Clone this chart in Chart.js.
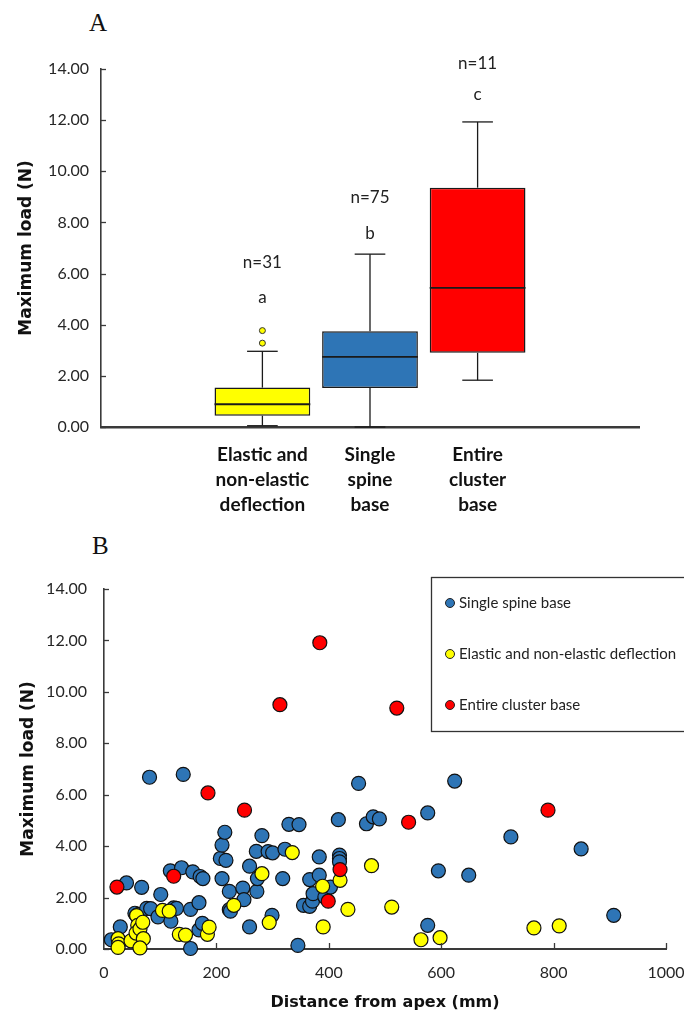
<!DOCTYPE html>
<html lang="en">
<head>
<meta charset="utf-8">
<title>Maximum load</title>
<script src="https://cdn.jsdelivr.net/npm/chart.js@4.4.0/dist/chart.umd.min.js"></script>
<style>
  body { margin: 0; background: #fff; width: 684px; height: 1012px; position: relative; overflow: hidden; }
  .panel { position: absolute; font-family: 'Liberation Serif', serif; font-size: 25px; line-height: 25px; color: #111; }
  #boxChart { position: absolute; left: 0; top: 0; }
  #scatterChart { position: absolute; left: 0; top: 530px; }
</style>
</head>
<body>
<div class="panel" style="left:89px; top:10px;">A</div>
<div class="panel" style="left:92px; top:533px;">B</div>
<canvas id="boxChart" width="684" height="530"></canvas>
<canvas id="scatterChart" width="684" height="482"></canvas>

<script>
  // ---- panel A: box plot ----
  const cats = ['', 'Elastic and non-elastic deflection', 'Single spine base', 'Entire cluster base', ''];
  const catLines = [[''], ['Elastic and', 'non-elastic', 'deflection'], ['Single', 'spine', 'base'], ['Entire', 'cluster', 'base'], ['']];
  const boxColors = ['#ffffff', '#ffff00', '#2e75b6', '#ff0000', '#ffffff'];
  const boxMin = [null, 0.05, 0.00, 1.83, null];
  const boxQ1 = [null, 0.44, 1.53, 2.90, null];
  const boxMed = [null, 0.89, 2.74, 5.44, null];
  const boxQ3 = [null, 1.54, 3.74, 9.36, null];
  const boxMax = [null, 2.96, 6.76, 11.93, null];
  const outlierHi = [null, 3.77, null, null, null];
  const outlierLo = [null, 3.28, null, null, null];
  const nText = ['', 'n=31', 'n=75', 'n=11', ''];
  const nAt = [null, 6.43, 8.98, 14.2, null];
  const sigText = ['', 'a', 'b', 'c', ''];
  const sigAt = [null, 5.05, 7.57, 13.0, null];

  // ---- panel B: scatter, [distance mm, load N] ----
  const spinePts = [[13,0.36],[29,0.86],[40,2.57],[55,1.39],[58,1.30],[62,1.35],[67,2.40],[76,1.58],[81,6.68],[83,1.57],
    [96,1.25],[101,2.12],[118,3.04],[119,1.08],[124,1.60],[129,1.58],[138,3.16],[141,6.79],[154,1.54],[154,0.02],
    [158,3.00],[169,1.80],[169,0.74],[171,2.82],[175,1.00],[176,2.74],[207,3.52],[210,4.04],[210,2.74],[215,4.54],
    [217,3.45],[223,2.24],[223,1.53],[225,1.47],[247,2.37],[249,1.92],[259,3.22],[259,0.86],[271,3.80],[272,2.24],
    [273,2.74],[281,4.41],[292,3.79],[299,1.31],[300,3.74],[318,2.74],[322,3.88],[329,4.85],[345,0.14],[347,4.84],
    [355,1.70],[366,1.66],[366,2.70],[371,1.86],[372,2.15],[383,3.58],[383,2.87],[393,2.02],[403,2.41],[417,5.03],
    [419,3.65],[419,3.52],[419,3.39],[453,6.44],[467,4.87],[479,5.14],[490,5.06],[576,5.29],[576,0.92],[595,3.04],
    [624,6.53],[649,2.87],[724,4.36],[849,3.89],[907,1.31]];
  const deflPts = [[25,0.40],[26,0.20],[25,0.06],[48,0.32],[58,1.30],[60,0.92],[57,0.62],[64,0.78],[69,1.04],[70,0.40],
    [64,0.04],[104,1.50],[116,1.47],[134,0.57],[145,0.54],[184,0.57],[187,0.85],[231,1.70],[281,2.93],[294,1.03],
    [335,3.75],[389,2.44],[390,0.86],[420,2.67],[434,1.54],[476,3.24],[512,1.63],[564,0.36],[598,0.44],[765,0.82],
    [810,0.90]];
  const clusterPts = [[23,2.41],[124,2.83],[185,6.07],[250,5.40],[313,9.50],[384,11.91],[399,1.86],[420,3.09],
    [521,9.37],[542,4.93],[790,5.40]];

  const yTicks = [0, 2, 4, 6, 8, 10, 12, 14];
  const xTicks = [0, 200, 400, 600, 800, 1000];

  Chart.defaults.font.family = 'Lato';
  Chart.defaults.color = '#262626';
  Chart.defaults.animation = false;
  Chart.defaults.plugins.tooltip.enabled = false;

  const axisColor = '#3a3a3a';
  const yTitleFont = { family: 'DejaVu Sans', size: 17, weight: 'bold' };
  const xTitleFont = { family: 'DejaVu Sans', size: 16, weight: 'bold' };

  // short tick marks drawn inward from the axis lines
  const innerTicks = {
    id: 'innerTicks',
    afterDatasetsDraw(chart, args, opts) {
      const { ctx, chartArea, scales } = chart;
      ctx.save();
      ctx.strokeStyle = axisColor;
      ctx.lineWidth = 1.3;
      if (opts.y) {
        scales.y.ticks.forEach(t => {
          const py = Math.round(scales.y.getPixelForValue(t.value)) + 0.5;
          ctx.beginPath(); ctx.moveTo(chartArea.left, py); ctx.lineTo(chartArea.left + opts.y, py); ctx.stroke();
        });
      }
      if (opts.x) {
        scales.x.ticks.forEach(t => {
          if (t.value === 0) return;
          const px = Math.round(scales.x.getPixelForValue(t.value)) + 0.5;
          ctx.beginPath(); ctx.moveTo(px, chartArea.bottom); ctx.lineTo(px, chartArea.bottom - opts.x); ctx.stroke();
        });
      }
      ctx.restore();
    }
  };

  // medians, whiskers and letters on the box plot
  const boxExtras = {
    id: 'boxExtras',
    afterDatasetsDraw(chart) {
      const { ctx, scales: { x, y } } = chart;
      const bars = chart.getDatasetMeta(0).data;
      const line = (x1, y1, x2, y2) => { ctx.beginPath(); ctx.moveTo(x1, y1); ctx.lineTo(x2, y2); ctx.stroke(); };
      ctx.save();
      ctx.strokeStyle = '#1a1a1a';
      cats.forEach((c, i) => {
        if (boxMed[i] == null) return;
        const cx = x.getPixelForValue(i);
        const half = bars[i].width / 2;
        const cap = bars[i].width * 0.16;
        ctx.lineWidth = 1.8;
        line(cx - half, y.getPixelForValue(boxMed[i]), cx + half, y.getPixelForValue(boxMed[i]));
        ctx.lineWidth = 1.3;
        const yMax = y.getPixelForValue(boxMax[i]), yMin = y.getPixelForValue(boxMin[i]);
        line(cx, y.getPixelForValue(boxQ3[i]), cx, yMax);
        line(cx - cap, yMax, cx + cap, yMax);
        line(cx, y.getPixelForValue(boxQ1[i]), cx, yMin);
        line(cx - cap, yMin, cx + cap, yMin);
      });
      ctx.fillStyle = '#222';
      ctx.font = '17px Lato';
      ctx.textAlign = 'center';
      ctx.textBaseline = 'middle';
      cats.forEach((c, i) => {
        if (nAt[i] == null) return;
        const cx = x.getPixelForValue(i);
        ctx.fillText(nText[i], cx, y.getPixelForValue(nAt[i]));
        ctx.fillText(sigText[i], cx, y.getPixelForValue(sigAt[i]));
      });
      ctx.restore();
    }
  };

  new Chart(document.getElementById('boxChart'), {
    type: 'bar',
    data: {
      labels: cats,
      datasets: [{
        data: cats.map((c, i) => boxQ1[i] == null ? null : [boxQ1[i], boxQ3[i]]),
        backgroundColor: boxColors,
        borderColor: '#1a1a1a',
        borderWidth: 1.5,
        borderSkipped: false,
        categoryPercentage: 1,
        barPercentage: 0.89
      }, {
        type: 'line', data: outlierHi, showLine: false,
        pointRadius: 3, pointBackgroundColor: '#ffff00', pointBorderColor: '#333', pointBorderWidth: 1
      }, {
        type: 'line', data: outlierLo, showLine: false,
        pointRadius: 3, pointBackgroundColor: '#ffff00', pointBorderColor: '#333', pointBorderWidth: 1
      }]
    },
    options: {
      responsive: false,
      layout: { padding: { top: 69, right: 45, left: 0, bottom: 0 } },
      plugins: { legend: { display: false }, innerTicks: { y: 5 } },
      scales: {
        x: {
          grid: { display: false, drawTicks: false },
          border: { display: true, color: axisColor, width: 2.5 },
          ticks: {
            padding: 15,
            color: '#111',
            font: { size: 19, weight: 'bold', lineHeight: 1.32 },
            callback: (v, i) => catLines[i]
          },
          afterFit: s => { s.height = 103; s.paddingLeft = 0; s.paddingRight = 0; }
        },
        y: {
          min: 0, max: 14,
          afterBuildTicks: s => { s.ticks = yTicks.map(v => ({ value: v })); },
          grid: { display: false, drawTicks: false },
          border: { display: true, color: axisColor, width: 1.6 },
          ticks: { padding: 12, font: { size: 16 }, callback: v => v.toFixed(2) },
          title: { display: true, text: 'Maximum load (N)', color: '#111', font: yTitleFont, padding: { top: 16, bottom: 0 } },
          afterFit: s => { s.width = 101; }
        }
      }
    },
    plugins: [boxExtras, innerTicks]
  });

  // legend drawn as a framed box inside the plot
  const boxLegend = {
    id: 'boxLegend',
    afterDraw(chart) {
      const { ctx } = chart;
      ctx.save();
      ctx.strokeStyle = '#333';
      ctx.lineWidth = 1.3;
      ctx.strokeRect(431.5, 47.5, 270, 154);
      ctx.font = '15px Lato';
      ctx.textBaseline = 'middle';
      chart.data.datasets.forEach((ds, i) => {
        const cy = 73 + i * 51;
        ctx.beginPath();
        ctx.arc(450, cy, 4.5, 0, Math.PI * 2);
        ctx.fillStyle = ds.backgroundColor;
        ctx.fill();
        ctx.lineWidth = 1;
        ctx.strokeStyle = '#222';
        ctx.stroke();
        ctx.fillStyle = '#222';
        ctx.fillText(ds.label, 459, cy);
      });
      ctx.restore();
    }
  };

  const pointStyle = color => ({
    backgroundColor: color, borderColor: '#111', borderWidth: 1.2,
    pointRadius: 7, clip: false
  });

  new Chart(document.getElementById('scatterChart'), {
    type: 'scatter',
    data: {
      datasets: [
        { label: 'Single spine base', data: spinePts.map(p => ({ x: p[0], y: p[1] })), order: 3, ...pointStyle('#2e75b6') },
        { label: 'Elastic and non-elastic deflection', data: deflPts.map(p => ({ x: p[0], y: p[1] })), order: 2, ...pointStyle('#ffff00') },
        { label: 'Entire cluster base', data: clusterPts.map(p => ({ x: p[0], y: p[1] })), order: 1, ...pointStyle('#ff0000') }
      ]
    },
    options: {
      responsive: false,
      layout: { padding: { top: 59, right: 18, left: 0, bottom: 0 } },
      plugins: { legend: { display: false }, innerTicks: { x: 6, y: 5 } },
      scales: {
        x: {
          min: 0, max: 1000,
          afterBuildTicks: s => { s.ticks = xTicks.map(v => ({ value: v })); },
          grid: { display: false, drawTicks: false },
          border: { display: true, color: axisColor, width: 2 },
          ticks: { padding: 14, font: { size: 16 }, callback: v => String(v) },
          title: { display: true, text: 'Distance from apex (mm)', color: '#111', font: xTitleFont, padding: { top: 1, bottom: 0 } },
          afterFit: s => { s.height = 63; s.paddingLeft = 0; s.paddingRight = 0; }
        },
        y: {
          min: 0, max: 14,
          afterBuildTicks: s => { s.ticks = yTicks.map(v => ({ value: v })); },
          grid: { display: false, drawTicks: false },
          border: { display: true, color: axisColor, width: 1.6 },
          ticks: { padding: 17, font: { size: 16 }, callback: v => v.toFixed(2) },
          title: { display: true, text: 'Maximum load (N)', color: '#111', font: yTitleFont, padding: { top: 18, bottom: 0 } },
          afterFit: s => { s.width = 104; }
        }
      }
    },
    plugins: [innerTicks, boxLegend]
  });
</script>
</body>
</html>
